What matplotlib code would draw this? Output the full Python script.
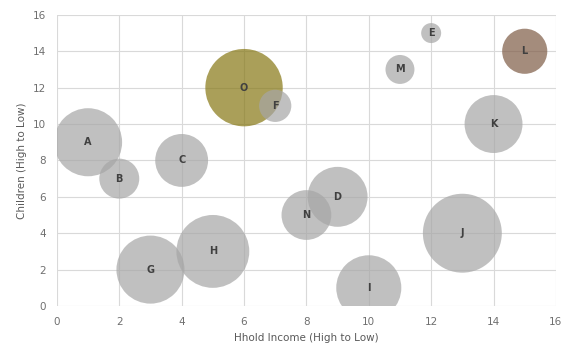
import numpy as np
import matplotlib.pyplot as plt

labels = ["O", "A", "B", "C", "D", "E", "F", "G", "H", "I", "J", "K", "L", "M", "N"]
income = [6, 1, 2, 4, 9, 12, 7, 3, 5, 10, 13, 14, 15, 11, 8]
children = [12, 9, 7, 8, 6, 15, 11, 2, 3, 1, 4, 10, 14, 13, 5]
bubble = [150, 116, 40, 70, 90, 10, 26, 116, 133, 106, 156, 84, 51, 21, 62]

grey = "#a6a6a6"
colors = {"O": "#867713", "L": "#7e5b45"}

fig = plt.figure(figsize=(5.69, 3.54), dpi=100)
ax = fig.add_axes([0.100, 0.1356, 0.877, 0.8224])

cols = [colors.get(l, grey) for l in labels]
s = np.array(bubble) * 20.7
for x, y, si, c, l in zip(income, children, s, cols, labels):
    ax.scatter(x, y, s=si, color=c, alpha=0.7, edgecolors="none", zorder=2)
    ax.text(x, y, l, ha="center", va="center", fontsize=7, fontweight="bold",
            color="#404040", zorder=3)

ax.set_xlim(0, 16)
ax.set_ylim(0, 16)
ax.set_xticks(range(0, 17, 2))
ax.set_yticks(range(0, 17, 2))
ax.grid(True, color="#d9d9d9", linewidth=0.8, zorder=0)
ax.set_axisbelow(True)
for sp in ax.spines.values():
    sp.set_visible(False)
ax.tick_params(length=0, labelsize=7.5, labelcolor="#6f6f6f", pad=8)
ax.set_xlabel("Hhold Income (High to Low)", fontsize=7.5, color="#595959")
ax.set_ylabel("Children (High to Low)", fontsize=7.5, color="#595959")

plt.savefig("out.png")
